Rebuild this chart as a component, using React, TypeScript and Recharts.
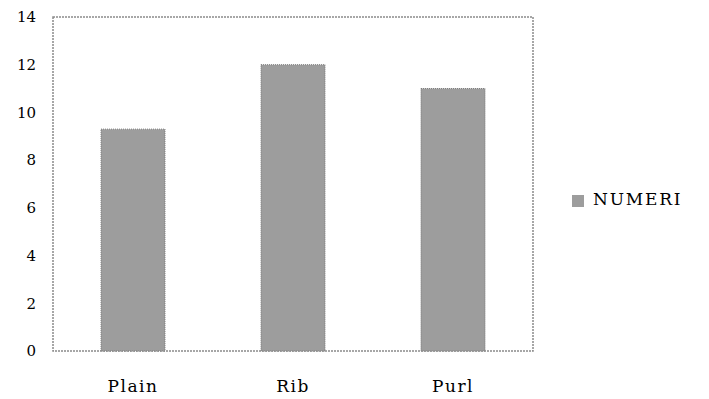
import { BarChart, Bar, XAxis, YAxis, Legend, ReferenceArea } from "recharts";

const CATEGORIES = ["Plain", "Rib", "Purl"];
const NUMERI = [9.3, 12, 11];
const Y_TICKS = [0, 2, 4, 6, 8, 10, 12, 14];

const data = CATEGORIES.map((name, i) => ({ name, NUMERI: NUMERI[i] }));

const FONT = "'DejaVu Serif', 'Liberation Serif', serif";

export default function App() {
  return (
    <div style={{ position: "absolute", left: 0, top: 0, width: 709, height: 399, background: "#fff", fontFamily: FONT }}>
      <BarChart width={709} height={399} data={data} margin={{ top: 17, right: 36, left: 0, bottom: 0 }} barCategoryGap="30%">
        <XAxis
          dataKey="name"
          axisLine={false}
          tickLine={false}
          tickMargin={23}
          height={48}
          tick={{ fontSize: 17, fill: "#000", fontFamily: FONT, letterSpacing: 1.5 }}
        />
        <YAxis
          domain={[0, 14]}
          ticks={Y_TICKS}
          width={53}
          axisLine={false}
          tickLine={false}
          tickMargin={11}
          tick={{ fontSize: 15, fill: "#000", fontFamily: FONT }}
        />
        <ReferenceArea
          x1="Plain"
          x2="Purl"
          y1={0}
          y2={14}
          fill="none"
          fillOpacity={0}
          stroke="#8a8a8a"
          strokeWidth={1.5}
          strokeDasharray="2 1"
          ifOverflow="visible"
        />
        <Bar dataKey="NUMERI" fill="#9d9d9d" stroke="#7a7a7a" strokeDasharray="1 1" isAnimationActive={false} />
        <Legend
          layout="vertical"
          align="right"
          verticalAlign="middle"
          iconType="square"
          iconSize={12}
          width={140}
          wrapperStyle={{ left: 572, top: 189, width: 140, right: "auto" }}
          formatter={(v: string) => (
            <span style={{ color: "#000", fontSize: 17, letterSpacing: 1.8, fontFamily: FONT, marginLeft: 5 }}>{v}</span>
          )}
        />
      </BarChart>
    </div>
  );
}
